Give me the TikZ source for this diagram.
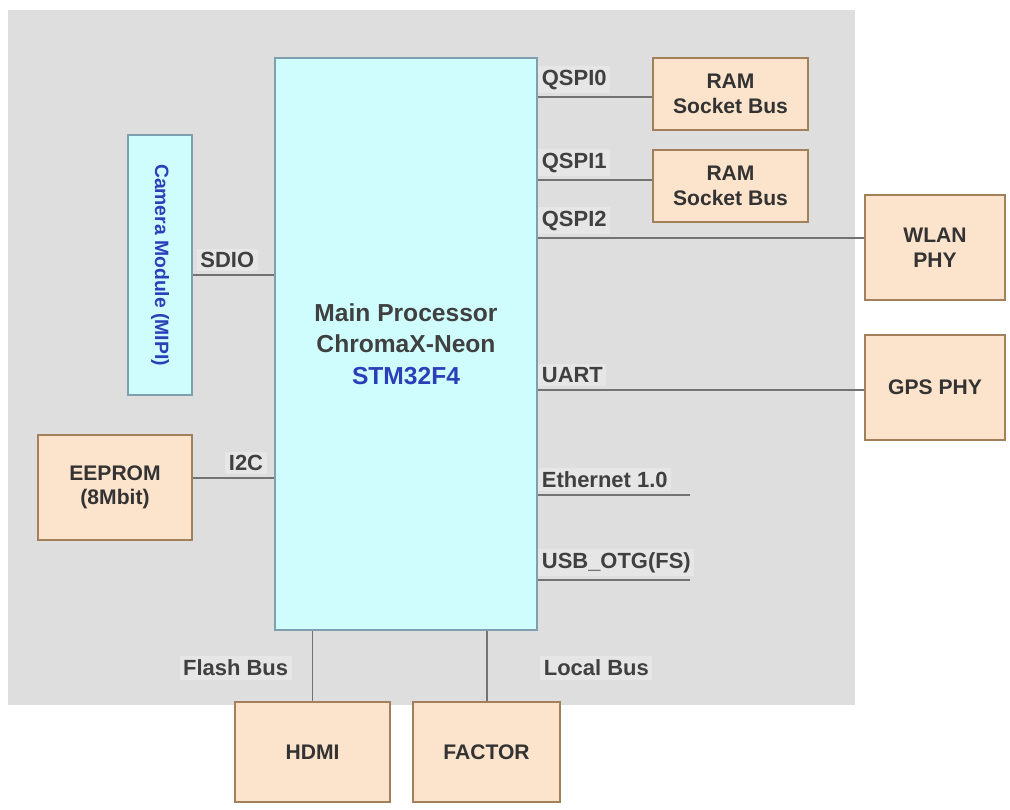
\documentclass[tikz,border=0pt]{standalone}
\usepackage{fontspec}
\setmainfont{Liberation Sans}
\begin{document}
\begin{tikzpicture}[x=0.02cm,y=-0.02cm,
  box/.style={draw=brown!55!gray, line width=1.2pt, fill=peach, inner sep=2pt, align=center, font=\bfseries\fontsize{12}{14}\selectfont, text=black!80},
  cpu/.style={draw=gray!70!cyan, line width=1.2pt, fill=cpucyan, align=center, font=\bfseries\fontsize{14}{18}\selectfont, text=black!75},
  lbl/.style={fill=labelbg, inner sep=2pt, font=\bfseries\fontsize{12.5}{14}\selectfont, text=black!75, anchor=south west},
  bus/.style={draw=gray!90!black, line width=1pt}]
\definecolor{peach}{HTML}{FCE3CB}
\definecolor{cpucyan}{HTML}{CFFDFD}
\definecolor{bgray}{HTML}{DEDEDE}
\definecolor{labelbg}{HTML}{E6E6E6}
\definecolor{linkblue}{HTML}{2A3FB8}
\useasboundingbox (0,0) rectangle (1010,809);
\fill[white] (0,0) rectangle (1010,809);
\fill[bgray] (8,10) rectangle (855,705);
% nodes
\node[cpu, minimum width=5.24cm, minimum height=11.44cm] (main) at (406,344)
  {Main Processor\\ ChromaX-Neon\\ {\color{linkblue}STM32F4}};
\node[box, minimum width=3.1cm, minimum height=1.44cm] (ram1) at (730.5,94) {RAM\\ Socket Bus};
\node[box, minimum width=3.1cm, minimum height=1.44cm] (ram2) at (730.5,186) {RAM\\ Socket Bus};
\node[box, minimum width=2.8cm, minimum height=2.1cm] (wlan) at (935,247.5) {WLAN\\ PHY};
\node[box, minimum width=2.8cm, minimum height=2.1cm] (gps) at (935,387.5) {GPS PHY};
\node[draw=gray!70!cyan, line width=1.2pt, fill=cpucyan, minimum width=1.28cm, minimum height=5.2cm] (cam) at (160,265) {};
\node[rotate=-90, text=linkblue, font=\bfseries\fontsize{11}{13}\selectfont] (camtxt) at (cam.center) {Camera Module (MIPI)};
\node[box, minimum width=3.08cm, minimum height=2.1cm] (eeprom) at (115,487.5) {EEPROM\\ (8Mbit)};
\node[box, minimum width=3.1cm, minimum height=2.0cm] (hdmi) at (312.5,752) {HDMI};
\node[box, minimum width=2.94cm, minimum height=2.0cm] (factor) at (486.5,752) {FACTOR};
% free ends
\coordinate (ethend) at (690,495);
\coordinate (usbend) at (690,580);
% connectors right
\draw[bus] (main.east |- ram1.west) ++(0,3) coordinate (q0s) -- (ram1.west |- q0s);
\node[lbl] (q0) at ([yshift=2pt]q0s) {QSPI0};
\draw[bus] (main.east |- {0,180}) coordinate (q1s) -- (ram2.west |- q1s);
\node[lbl] (q1) at ([yshift=2pt]q1s) {QSPI1};
\draw[bus] (main.east |- {0,238}) coordinate (q2s) -- (wlan.west |- q2s);
\node[lbl] (q2) at ([yshift=2pt]q2s) {QSPI2};
\draw[bus] (main.east |- {0,390}) coordinate (us) -- (gps.west |- us);
\node[lbl] (uart) at ([yshift=2pt]us) {UART};
\draw[bus] (main.east |- ethend) coordinate (es) -- (ethend);
\node[lbl] (eth) at ([yshift=2pt]es) {Ethernet 1.0};
\draw[bus] (main.east |- usbend) coordinate (ubs) -- (usbend);
\node[lbl] (usb) at ([yshift=2pt]ubs) {USB\_OTG(FS)};
% connectors left
\draw[bus] (cam.east |- {0,275}) coordinate (ss) -- (main.west |- ss);
\node[lbl] (sdio) at ([yshift=2pt, xshift=2pt]ss) {SDIO};
\draw[bus] (eeprom.east |- {0,478}) coordinate (is) -- (main.west |- is);
\node[lbl, anchor=south east] (i2c) at ([yshift=2pt, xshift=-4pt]main.west |- is) {I2C};
% bottom
\draw[bus] (main.south -| hdmi.north) -- (hdmi.north);
\draw[bus] (main.south -| {487,0}) coordinate (fs) -- (fs |- factor.north);
\node[lbl, anchor=east] (flash) at (292,668) {Flash Bus};
\node[lbl, anchor=west] (local) at (540,668) {Local Bus};
\end{tikzpicture}
\end{document}
